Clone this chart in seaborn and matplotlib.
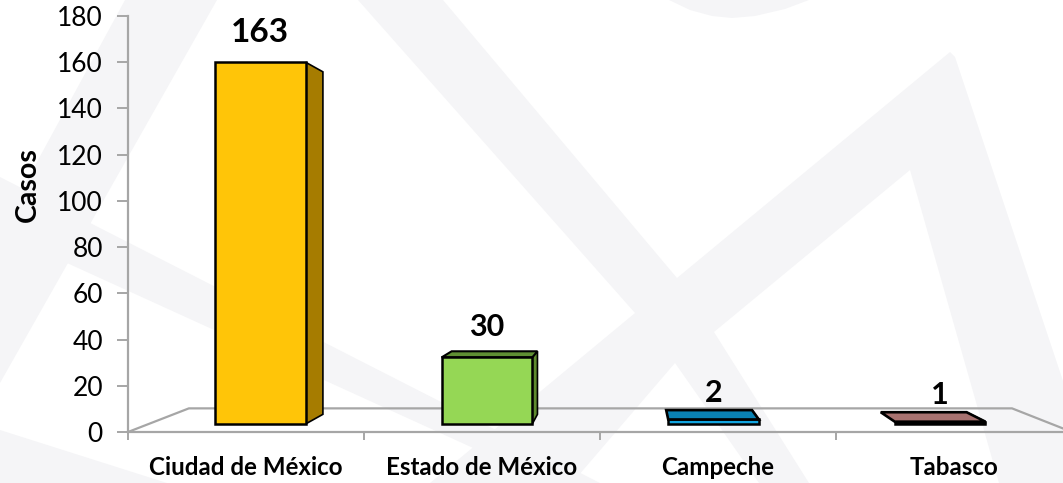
import matplotlib
matplotlib.use('Agg')
import matplotlib.pyplot as plt
from matplotlib.patches import Polygon
import pandas as pd
import seaborn as sns

estados = ['Ciudad de México', 'Estado de México', 'Campeche', 'Tabasco']
casos = [163, 30, 2, 1]
colores = ['#FFC508', '#95D755', '#12A5E0', '#A87270']
colores_lado = ['#A67C00', '#5E8A2E', '#12A5E0', '#000000']
colores_tapa = ['#FFC508', '#5F8F33', '#0A82B4', '#A87270']
yticks = list(range(0, 181, 20))

W, H = 1063, 483
sns.set_theme(style='white')
plt.rcParams['font.family'] = ['Lato', 'DejaVu Sans']

fig = plt.figure(figsize=(W / 100, H / 100), dpi=100)

# watermark behind the chart, in pixels
def px(pts):
    return [(x / W, 1 - y / H) for x, y in pts]

gris = '#F5F5F7'
fondo = [
    [(125, 0), (217, 0), (0, 383), (0, 230)],
    [(0, 177), (600, 483), (550, 483), (67, 263), (0, 230)],
    [(0, 430), (167, 483), (0, 483)],
    [(443, 0), (677, 278), (950, 52), (955, 57), (1097, 483), (999, 483), (910, 170), (714, 332),
     (809, 483), (759, 483), (675, 363), (572, 483), (430, 483), (635, 313), (358, 0)],
    [(669, 0), (690, 10), (712, 16), (732, 18), (755, 16), (785, 9), (809, 0)],
]
for f in fondo:
    fig.add_artist(Polygon(px(f), closed=True, fc=gris, ec='none', zorder=0))

# x axis runs past the right edge of the picture on purpose
ax = fig.add_axes([128 / W, 1 - 432 / H, 944 / W, 416 / H])
ax.patch.set_alpha(0)

df = pd.DataFrame({'estado': estados, 'casos': casos})
df['alto'] = df['casos'] * 0.96

sns.barplot(data=df, x='estado', y='alto', hue='estado', palette=colores, legend=False,
            width=0.384, bottom=3.5, edgecolor='black', linewidth=1.8, saturation=1, ax=ax, zorder=3)

ax.set_xlim(-0.5, 3.5)
ax.set_ylim(0, 180)

# perspective point for the fake 3D
vx, vy = 1.627, 81.8
def atras(x, y, k):
    return x + k * (vx - x), y + k * (vy - y)

# floor
x0, x1 = -0.5, 3.5
piso = [atras(x0, 0, 0.125), atras(x1, 0, 0.125)]
ax.plot([x0, piso[0][0] - 0.008, piso[1][0] - 0.02, x1], [0, piso[0][1], piso[1][1], 0], color='#A6A6A6', lw=1.6,
        zorder=1, clip_on=False)

tamanos = [24, 22, 22, 22]
seps = [11, 12, 9, 9]
for i, p in enumerate(ax.patches):
    cx = p.get_x() + p.get_width() / 2
    p.set_x(p.get_x() + 0.04 * (vx - 0.1 - cx))
    l, r = p.get_x(), p.get_x() + p.get_width()
    b, t = p.get_y(), p.get_y() + p.get_height()
    k = 0.053
    lado = [(r, b), (r, t), atras(r, t, k), atras(r, b, k)]
    tapa = [(l, t), (r, t), atras(r, t, k), atras(l, t, k)]
    ax.add_patch(Polygon(lado, closed=True, fc=colores_lado[i], ec='black', lw=1.2, zorder=2.5))
    # the top only shows for bars lower than eye level
    if t < vy:
        ax.add_patch(Polygon(tapa, closed=True, fc=colores_tapa[i], ec='black', lw=1.5 if i < 2 else 1.9,
                             zorder=3.5 if i > 1 else 2.5))
    ax.annotate(str(casos[i]), ((l + r) / 2, t), xytext=(0, seps[i]), textcoords='offset points',
                ha='center', va='bottom', fontsize=tamanos[i], fontweight='bold', color='black', zorder=5)

ax.set_xticks([-0.5, 0.5, 1.5, 2.5, 3.5])
ax.set_xticklabels([])
ax.set_xticks(range(4), estados, minor=True)
ax.tick_params(axis='x', which='major', length=6, width=1.4, color='#A6A6A6', bottom=True)
ax.tick_params(axis='x', which='minor', length=0, pad=17, labelsize=17.4)
for lab in ax.get_xticklabels(minor=True):
    lab.set_fontweight('bold')
    lab.set_color('black')

ax.set_yticks(yticks)
ax.tick_params(axis='y', length=8, width=1.4, color='#A6A6A6', left=True, labelsize=19, pad=10, labelcolor='black')
ax.set_ylabel('Casos', fontsize=20.5, fontweight='bold', color='black', labelpad=12, y=0.594)
ax.set_xlabel('')

sns.despine(ax=ax)
for s in ['left', 'bottom']:
    ax.spines[s].set_color('#A6A6A6')
    ax.spines[s].set_linewidth(1.6)

fig.savefig('out.png', dpi=100)
